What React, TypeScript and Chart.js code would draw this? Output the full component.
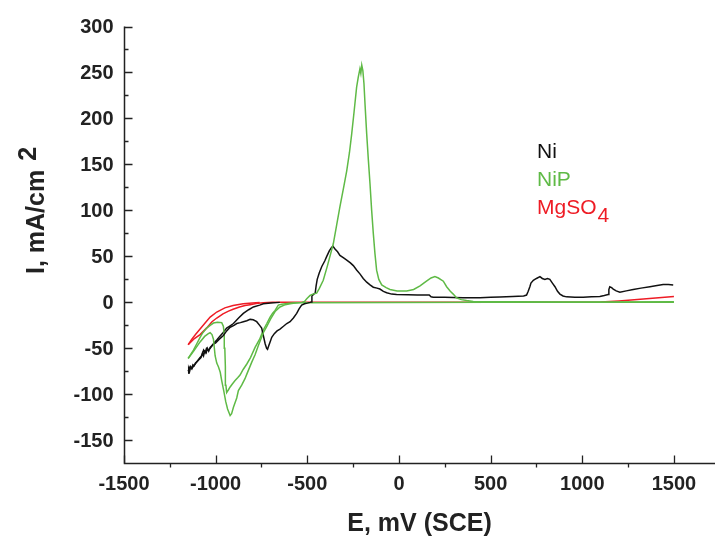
import React, { useEffect, useRef } from 'react';
import { Chart, registerables } from 'chart.js';

Chart.register(...registerables);

// ---- axis ticks ----
const xTickValues = [-1500, -1000, -500, 0, 500, 1000, 1500];
const yTickValues = [-150, -100, -50, 0, 50, 100, 150, 200, 250, 300];
const X_MIN = -1500;
const X_MAX = 1724;
const Y_MIN = -175;
const Y_MAX = 300;

const xTitle = 'E, mV (SCE)';
const yTitle = 'I, mA/cm';
const yTitleSup = '2';
const legendNames = ['Ni', 'NiP', 'MgSO'];
const legendSub = '4';

// ---- series: [E (mV), I (mA/cm2)] ----
const niForward: [number, number][] = [
  [-1150, -77], [-1147, -72], [-1142, -75], [-1136, -70], [-1130, -72], [-1124, -68], [-1118, -69],
  [-1110, -66], [-1100, -64], [-1090, -62], [-1080, -60], [-1072, -55], [-1066, -58], [-1060, -53],
  [-1052, -55], [-1045, -50], [-1038, -53], [-1030, -49], [-1015, -46], [-1000, -44], [-980, -40],
  [-958, -36], [-940, -31], [-921, -27], [-900, -25], [-885, -23], [-865, -22], [-849, -21],
  [-830, -20], [-812, -18.5], [-795, -19], [-776, -21], [-760, -25], [-749, -28], [-740, -36],
  [-730, -45], [-722, -50], [-717, -51], [-710, -47], [-703, -43], [-694, -38], [-680, -34],
  [-665, -31], [-649, -29], [-630, -26], [-612, -23], [-594, -21], [-576, -17], [-558, -12],
  [-545, -7], [-531, -3], [-515, -1.5], [-500, -0.8], [-485, 0], [-477, 0.5], [-475, 7],
  [-465, 9], [-457, 10], [-452, 18], [-446, 25], [-435, 32], [-421, 39], [-405, 45], [-394, 50],
  [-380, 56], [-367, 60], [-360, 61], [-349, 58], [-335, 55], [-322, 51], [-300, 48], [-285, 46],
  [-265, 43], [-249, 40], [-230, 35], [-213, 31], [-195, 26], [-176, 22], [-158, 19], [-140, 16.5],
  [-120, 15.5], [-104, 14.5], [-85, 12], [-67, 10.5], [-40, 9], [-13, 8.5], [50, 8.2], [100, 8],
  [165, 8], [175, 6], [187, 5.5], [250, 5.5], [296, 5.2], [350, 5], [442, 5], [500, 5.5],
  [551, 5.8], [620, 6.5], [680, 7], [696, 8], [705, 12], [714, 17], [720, 21], [733, 24],
  [750, 26], [769, 28], [782, 26], [796, 25], [810, 26], [823, 25], [837, 21], [851, 17],
  [865, 12], [878, 9], [895, 7], [914, 6], [960, 5.5], [1005, 5.5], [1050, 6], [1096, 6.5],
  [1120, 7.5], [1141, 8.5], [1145, 14], [1150, 17], [1160, 16], [1169, 14.5], [1185, 12.5],
  [1205, 11], [1240, 12.5], [1278, 14], [1320, 15.5], [1369, 17], [1400, 18], [1441, 19.5],
  [1470, 19.5], [1496, 19],
];

const niReverse: [number, number][] = [
  [-650, 0], [-700, -0.7], [-740, -1.5], [-760, -3], [-794, -5], [-820, -8], [-849, -12],
  [-875, -17], [-903, -23], [-925, -26], [-940, -28], [-960, -33], [-978, -37], [-994, -41],
  [-1012, -45], [-1030, -50], [-1040, -52], [-1050, -50], [-1058, -55], [-1066, -52],
  [-1075, -58], [-1085, -60], [-1100, -64], [-1115, -68], [-1130, -72], [-1140, -70], [-1150, -75],
];

const nipForward: [number, number][] = [
  [-1150, -61], [-1120, -53], [-1085, -43], [-1060, -37], [-1040, -34], [-1030, -33],
  [-1020, -35], [-1012, -40], [-1003, -58], [-994, -66], [-985, -70], [-975, -76], [-967, -85],
  [-955, -97], [-945, -108], [-935, -116], [-921, -123], [-913, -121], [-903, -114],
  [-885, -104], [-876, -96], [-858, -90], [-840, -83], [-830, -78], [-803, -65], [-785, -57],
  [-767, -47], [-740, -33], [-721, -26], [-700, -18], [-676, -10], [-649, -5], [-620, -2.5],
  [-594, -1.5], [-560, -0.5], [-530, 0], [-515, 1], [-503, 4], [-485, 7.5], [-470, 9],
  [-449, 10], [-435, 15], [-413, 24], [-390, 40], [-358, 64], [-340, 84], [-322, 104],
  [-300, 127], [-285, 143], [-270, 163], [-258, 183], [-245, 207], [-231, 234], [-222, 245],
  [-213, 254], [-208, 249], [-203, 258], [-197, 252], [-191, 238], [-185, 215], [-176, 183],
  [-167, 155], [-158, 129], [-149, 100], [-140, 75], [-131, 53], [-122, 35], [-110, 25],
  [-94, 19], [-70, 16], [-49, 14], [-10, 12.5], [20, 12.3], [42, 12.5], [80, 14], [115, 18],
  [150, 23], [175, 26.5], [196, 28], [215, 26.5], [242, 23], [260, 17], [280, 12], [296, 9],
  [314, 5], [340, 3], [369, 2], [405, 1], [442, 0.8], [600, 0.6], [900, 0.5], [1200, 0.5],
  [1500, 0.6],
];

const nipReverse: [number, number][] = [
  [1500, 0], [500, 0], [-540, -0.3], [-600, -1], [-640, -2], [-658, -3], [-676, -8.7],
  [-690, -12], [-703, -16], [-721, -23], [-740, -30], [-760, -40], [-785, -49], [-810, -60],
  [-830, -67], [-850, -73], [-867, -79], [-880, -82], [-894, -85], [-910, -89], [-921, -92],
  [-930, -95], [-940, -98], [-944, -90], [-947, -70], [-950, -50], [-953, -35], [-958, -26],
  [-967, -22], [-990, -21.5], [-1012, -22.5], [-1030, -25], [-1049, -28], [-1070, -33],
  [-1085, -38], [-1103, -45], [-1121, -52], [-1150, -61],
];

const mgForward: [number, number][] = [
  [-1150, -46], [-1120, -40], [-1085, -35], [-1050, -28], [-1020, -21], [-994, -17],
  [-960, -12.5], [-930, -9.5], [-905, -7.5], [-870, -5], [-840, -3.5], [-812, -2.5],
  [-780, -1.3], [-740, -0.5], [-690, 0], [0, 0], [900, 0], [1100, 0.3], [1200, 1.5],
  [1300, 3], [1400, 4.7], [1500, 6.5],
];

const mgReverse: [number, number][] = [
  [-760, 0], [-800, -0.6], [-850, -1.5], [-905, -3.3], [-950, -6], [-994, -10.5],
  [-1030, -16], [-1060, -23], [-1085, -29], [-1110, -35], [-1130, -40], [-1150, -46],
];

const BLACK = '#111111';
const GREEN = '#5fba46';
const RED = '#ee1c25';

const toPts = (arr: [number, number][]) => arr.map(([x, y]) => ({ x, y }));

const FONT = '"Liberation Sans", Arial, Helvetica, sans-serif';

const decorPlugin = {
  id: 'decor',
  afterDraw(chart: any) {
    const ctx = chart.ctx as CanvasRenderingContext2D;
    const xs = chart.scales.x;
    const ys = chart.scales.y;
    const area = chart.chartArea;
    const left = Math.round(area.left) + 0.5;
    const bottom = Math.round(area.bottom) + 0.5;
    const top = ys.getPixelForValue(Y_MAX);
    ctx.save();
    ctx.strokeStyle = '#222';
    ctx.lineWidth = 1.5;
    ctx.beginPath();
    ctx.moveTo(left, top);
    ctx.lineTo(left, bottom);
    ctx.lineTo(area.right, bottom);
    ctx.stroke();

    // x ticks
    ctx.lineWidth = 1.3;
    ctx.beginPath();
    xTickValues.forEach((v, i) => {
      const px = Math.round(xs.getPixelForValue(v)) + 0.5;
      ctx.moveTo(px, bottom);
      ctx.lineTo(px, bottom - 8);
      if (i < xTickValues.length - 1) {
        const mid = (v + xTickValues[i + 1]) / 2;
        const mx = Math.round(xs.getPixelForValue(mid)) + 0.5;
        ctx.moveTo(mx, bottom);
        ctx.lineTo(mx, bottom + 4);
      }
    });
    // y ticks
    yTickValues.forEach((v, i) => {
      const py = Math.round(ys.getPixelForValue(v)) + 0.5;
      ctx.moveTo(left, py);
      ctx.lineTo(left + 8, py);
      if (i < yTickValues.length - 1) {
        const mid = (v + yTickValues[i + 1]) / 2;
        const my = Math.round(ys.getPixelForValue(mid)) + 0.5;
        ctx.moveTo(left, my);
        ctx.lineTo(left + 4, my);
      }
    });
    ctx.stroke();

    // tick labels
    ctx.fillStyle = '#222';
    ctx.font = `bold 20px ${FONT}`;
    ctx.textAlign = 'center';
    ctx.textBaseline = 'middle';
    xTickValues.forEach((v) => {
      ctx.fillText(String(v), xs.getPixelForValue(v), bottom + 21);
    });
    ctx.textAlign = 'right';
    yTickValues.forEach((v) => {
      ctx.fillText(String(v), left - 11, ys.getPixelForValue(v) + 1);
    });

    // axis titles
    ctx.font = `bold 25px ${FONT}`;
    ctx.textAlign = 'center';
    ctx.fillText(xTitle, (area.left + area.right) / 2, 524);

    ctx.save();
    ctx.translate(37, 274);
    ctx.rotate(-Math.PI / 2);
    ctx.textAlign = 'left';
    ctx.fillText(yTitle, 0, 0);
    const w = ctx.measureText(yTitle).width;
    ctx.fillText(yTitleSup, w + 9, -8);
    ctx.restore();

    // legend text
    ctx.font = `21px ${FONT}`;
    ctx.textAlign = 'left';
    const colors = [BLACK, GREEN, RED];
    const ys0 = [152, 180, 208];
    legendNames.forEach((n, i) => {
      ctx.fillStyle = colors[i];
      ctx.fillText(n, 537, ys0[i]);
    });
    const mw = ctx.measureText(legendNames[2]).width;
    ctx.fillStyle = RED;
    ctx.fillText(legendSub, 537 + mw + 1, 216);
    ctx.restore();
  },
};

export default function App() {
  const ref = useRef<HTMLCanvasElement | null>(null);
  useEffect(() => {
    if (!ref.current) return;
    const ds = (data: [number, number][], color: string) => ({
      data: toPts(data),
      borderColor: color,
      backgroundColor: color,
      borderWidth: 1.5,
      showLine: true,
      pointRadius: 0,
      tension: 0,
      fill: false,
    });
    const chart = new Chart(ref.current, {
      type: 'scatter',
      data: {
        datasets: [
          ds(nipForward, GREEN),
          ds(niForward, BLACK),
          ds(nipReverse, GREEN),
          ds(niReverse, BLACK),
          ds(mgForward, RED),
          ds(mgReverse, RED),
        ],
      },
      options: {
        responsive: false,
        animation: false,
        devicePixelRatio: 1,
        layout: { padding: { left: 124, top: 26.5, right: 0, bottom: 75.7 } },
        scales: {
          x: { type: 'linear', display: false, min: X_MIN, max: X_MAX },
          y: { type: 'linear', display: false, min: Y_MIN, max: Y_MAX },
        },
        plugins: {
          legend: { display: false },
          tooltip: { enabled: false },
        },
      },
      plugins: [decorPlugin],
    } as any);
    return () => chart.destroy();
  }, []);
  return (
    <div style={{ position: 'absolute', left: 0, top: 0, width: 715, height: 539, background: '#fff' }}>
      <canvas ref={ref} width={715} height={539} style={{ display: 'block' }} />
    </div>
  );
}
